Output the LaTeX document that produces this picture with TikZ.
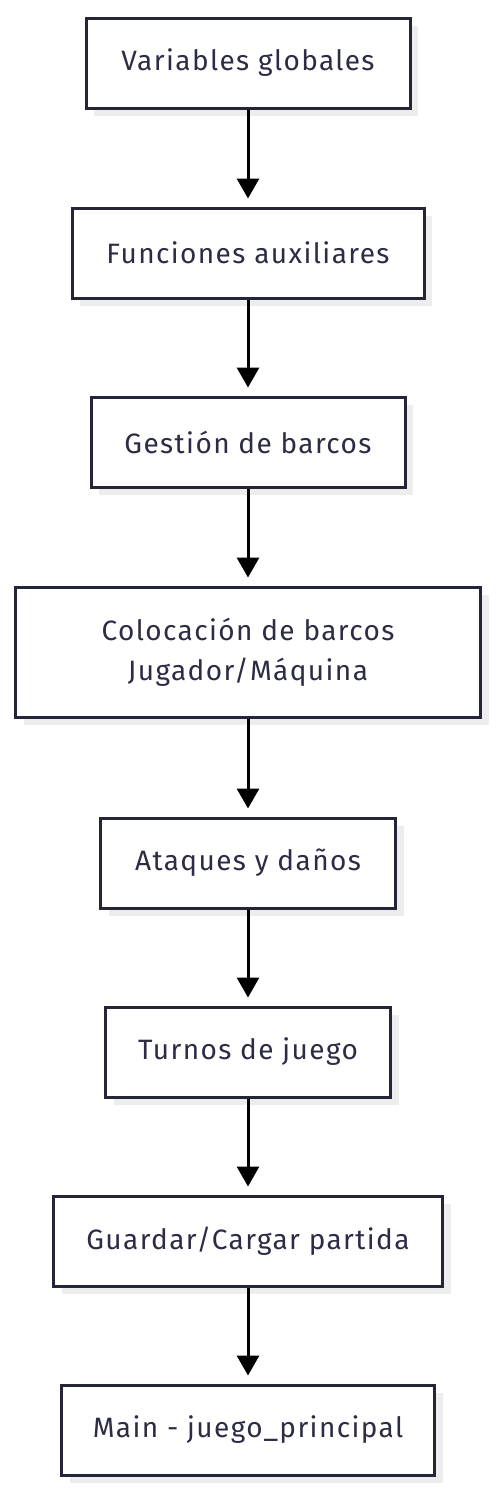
\documentclass[tikz,border=0pt]{standalone}
\usepackage{fontspec}
\setmainfont{Fira Sans}[LetterSpace=5]
\usetikzlibrary{arrows.meta,shadows}
\definecolor{bordercol}{HTML}{25253A}
\definecolor{textcol}{HTML}{2C2C44}
\definecolor{shadowcol}{HTML}{EDEDED}
\tikzset{
  box/.style={draw=bordercol, line width=3pt, fill=white, text=textcol,
    minimum height=90pt, inner sep=0pt, align=center,
    font=\fontsize{28}{40}\selectfont,
    general shadow={fill=shadowcol, shadow xshift=8pt, shadow yshift=-8pt}},
  conn/.style={line width=3pt, black, -{Triangle[width=22pt,length=20pt]}, shorten >=8pt}
}
\begin{document}
\begin{tikzpicture}[x=1pt,y=-1pt]
\useasboundingbox (0,0) rectangle (496,1494);
\node[box, minimum width=324pt] (n1) at (248,63) {Variables globales};
\node[box, minimum width=352pt] (n2) at (248,253) {Funciones auxiliares};
\node[box, minimum width=314pt] (n3) at (248,442) {Gestión de barcos};
\node[box, minimum width=465pt, minimum height=130pt] (n4) at (248,652) {Colocación de barcos\\Jugador/Máquina};
\node[box, minimum width=295pt] (n5) at (248,863) {Ataques y daños};
\node[box, minimum width=285pt] (n6) at (248,1052) {Turnos de juego};
\node[box, minimum width=389pt] (n7) at (248,1241) {Guardar/Cargar partida};
\node[box, minimum width=373pt] (n8) at (248,1430) {Main - juego\_principal};
\draw[conn] (n1) -- (n2);
\draw[conn] (n2) -- (n3);
\draw[conn] (n3) -- (n4);
\draw[conn] (n4) -- (n5);
\draw[conn] (n5) -- (n6);
\draw[conn] (n6) -- (n7);
\draw[conn] (n7) -- (n8);
\end{tikzpicture}
\end{document}
